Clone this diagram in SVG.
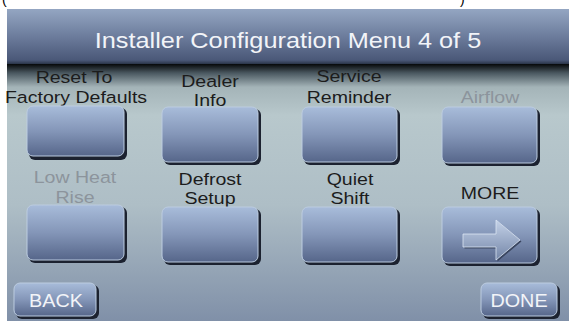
<svg xmlns="http://www.w3.org/2000/svg" width="569" height="321" viewBox="0 0 569 321">
<defs>
<linearGradient id="hdr" x1="0" y1="0" x2="0" y2="1">
<stop offset="0" stop-color="#94a6c2"/>
<stop offset="0.5" stop-color="#6c7c9c"/>
<stop offset="0.93" stop-color="#4a5878"/>
<stop offset="1" stop-color="#2a3448"/>
</linearGradient>
<linearGradient id="body" x1="0" y1="0" x2="0" y2="1">
<stop offset="0" stop-color="#06080a"/>
<stop offset="0.035" stop-color="#4a5860"/>
<stop offset="0.09" stop-color="#a4b4b8"/>
<stop offset="0.2" stop-color="#b8c8cc"/>
<stop offset="0.55" stop-color="#aebec6"/>
<stop offset="1" stop-color="#8090a8"/>
</linearGradient>
<linearGradient id="btn" x1="0" y1="0" x2="0" y2="1">
<stop offset="0" stop-color="#a8bcda"/>
<stop offset="0.5" stop-color="#8496b8"/>
<stop offset="1" stop-color="#56668a"/>
</linearGradient>
<linearGradient id="arr" x1="0" y1="0" x2="0" y2="1">
<stop offset="0" stop-color="#c4d2e8"/>
<stop offset="1" stop-color="#7486a8"/>
</linearGradient>
</defs>
<style>
.lbl{font-family:"Liberation Sans",Arial,sans-serif;font-size:17px;fill:#1c1c1c;text-anchor:middle}
.dis{fill:#8c949c}
.wt{font-family:"Liberation Sans",Arial,sans-serif;fill:#f2f4f8;text-anchor:middle}
.sh{fill:#1c2230}
.b{fill:url(#btn);stroke:#bccce0;stroke-width:1}
.par{font-family:"Liberation Sans",Arial,sans-serif;font-size:14px;fill:#000}
</style>
<rect width="569" height="321" fill="#ffffff"/>
<text class="par" x="2" y="4">(</text>
<text class="par" x="460" y="4">)</text>
<rect x="7" y="64" width="562" height="257" fill="url(#body)"/>
<rect x="7" y="9" width="562" height="55" fill="url(#hdr)"/>
<text class="wt" font-size="22" transform="translate(288,48) scale(1.15,1)">Installer Configuration Menu 4 of 5</text>

<g id="reset">
<text class="lbl" transform="translate(74,83) scale(1.15,1)">Reset To</text>
<text class="lbl" transform="translate(76,103) scale(1.15,1)">Factory Defaults</text>
<rect class="sh" x="29" y="108" width="98" height="52" rx="6"/>
<rect class="b" x="27" y="106" width="97" height="50" rx="6"/>
</g>
<g id="dealer">
<text class="lbl" transform="translate(210,87) scale(1.15,1)">Dealer</text>
<text class="lbl" transform="translate(210,106) scale(1.15,1)">Info</text>
<rect class="sh" x="164" y="109" width="97" height="56" rx="6"/>
<rect class="b" x="162" y="107" width="96" height="55" rx="6"/>
</g>
<g id="service">
<text class="lbl" transform="translate(349,82) scale(1.15,1)">Service</text>
<text class="lbl" transform="translate(349,103) scale(1.15,1)">Reminder</text>
<rect class="sh" x="304" y="109" width="96" height="56" rx="6"/>
<rect class="b" x="302" y="107" width="95" height="55" rx="6"/>
</g>
<g id="airflow">
<text class="lbl dis" transform="translate(490,103) scale(1.15,1)">Airflow</text>
<rect class="sh" x="444" y="109" width="96" height="57" rx="6"/>
<rect class="b" x="442" y="107" width="95" height="56" rx="6"/>
</g>
<g id="lowheat">
<text class="lbl dis" transform="translate(75,183) scale(1.15,1)">Low Heat</text>
<text class="lbl dis" transform="translate(75,203) scale(1.15,1)">Rise</text>
<rect class="sh" x="29" y="207" width="98" height="56" rx="6"/>
<rect class="b" x="27" y="205" width="97" height="55" rx="6"/>
</g>
<g id="defrost">
<text class="lbl" transform="translate(210,185) scale(1.15,1)">Defrost</text>
<text class="lbl" transform="translate(210,204) scale(1.15,1)">Setup</text>
<rect class="sh" x="164" y="209" width="97" height="56" rx="6"/>
<rect class="b" x="162" y="207" width="96" height="55" rx="6"/>
</g>
<g id="quiet">
<text class="lbl" transform="translate(350,185) scale(1.15,1)">Quiet</text>
<text class="lbl" transform="translate(350,204) scale(1.15,1)">Shift</text>
<rect class="sh" x="304" y="209" width="96" height="56" rx="6"/>
<rect class="b" x="302" y="207" width="95" height="55" rx="6"/>
</g>
<g id="more">
<text class="lbl" transform="translate(490,199) scale(1.15,1)">MORE</text>
<rect class="sh" x="444" y="209" width="96" height="57" rx="6"/>
<rect class="b" x="442" y="207" width="95" height="56" rx="6"/>
<path d="M463,234 H496 V220 L520,240 L496,260 V247 H463 Z" fill="#3a4660" transform="translate(1.5,1.5)"/>
<path d="M463,234 H496 V220 L520,240 L496,260 V247 H463 Z" fill="url(#arr)" stroke="#dce6f4" stroke-width="0.8"/>
</g>
<g id="back">
<rect class="sh" x="16" y="285" width="83" height="34" rx="6"/>
<rect class="b" x="14" y="283" width="82" height="33" rx="6"/>
<text class="wt" font-size="18" transform="translate(56,307) scale(1.1,1)">BACK</text>
</g>
<g id="done">
<rect class="sh" x="483" y="285" width="77" height="34" rx="6"/>
<rect class="b" x="481" y="283" width="76" height="33" rx="6"/>
<text class="wt" font-size="18" transform="translate(519,307) scale(1.1,1)">DONE</text>
</g>
<g id="connectors"></g>
</svg>
